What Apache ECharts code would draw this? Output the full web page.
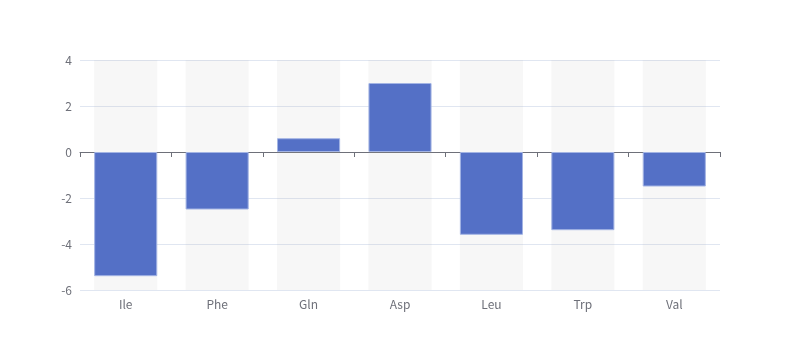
<!DOCTYPE html>
<html><head><meta charset="utf-8">
<script src="https://cdn.jsdelivr.net/npm/echarts@6/dist/echarts.min.js"></script>
<style>html,body{margin:0;padding:0;background:#fff}#c{width:800px;height:360px}</style>
</head><body><div id="c"></div>
<script>
const categories = ['Ile','Phe','Gln','Asp','Leu','Trp','Val'];
const values = [-5.4, -2.5, 0.6, 3.0, -3.6, -3.4, -1.5];
const yTicks = {min: -6, max: 4, interval: 2};
const font = "'Noto Sans CJK SC', 'Noto Sans', sans-serif";
const chart = echarts.init(document.getElementById('c'), null, {renderer:'canvas'});
chart.setOption({
  animation: false,
  textStyle: {fontFamily: font},
  grid: {left: 80, right: 80, top: 60, bottom: 70, containLabel: false},
  xAxis: {type: 'category', data: categories,
    axisLine: {lineStyle: {color: '#6e7079'}},
    axisTick: {show: true, alignWithLabel: false, lineStyle: {color: '#6e7079'}},
    axisLabel: {color: '#6e7079', fontSize: 12, fontFamily: font}},
  yAxis: {type: 'value', min: yTicks.min, max: yTicks.max, interval: yTicks.interval,
    axisLabel: {color: '#6e7079', fontSize: 12, fontFamily: font},
    splitLine: {lineStyle: {color: '#e0e6f1'}}},
  series: [{type: 'bar', data: values, barCategoryGap: '31%',
    showBackground: true, backgroundStyle: {color: 'rgba(180,180,180,0.1)'},
    itemStyle: {color: '#5470c6', borderColor: '#a3b4e4', borderWidth: 1}}]
});
</script></body></html>
